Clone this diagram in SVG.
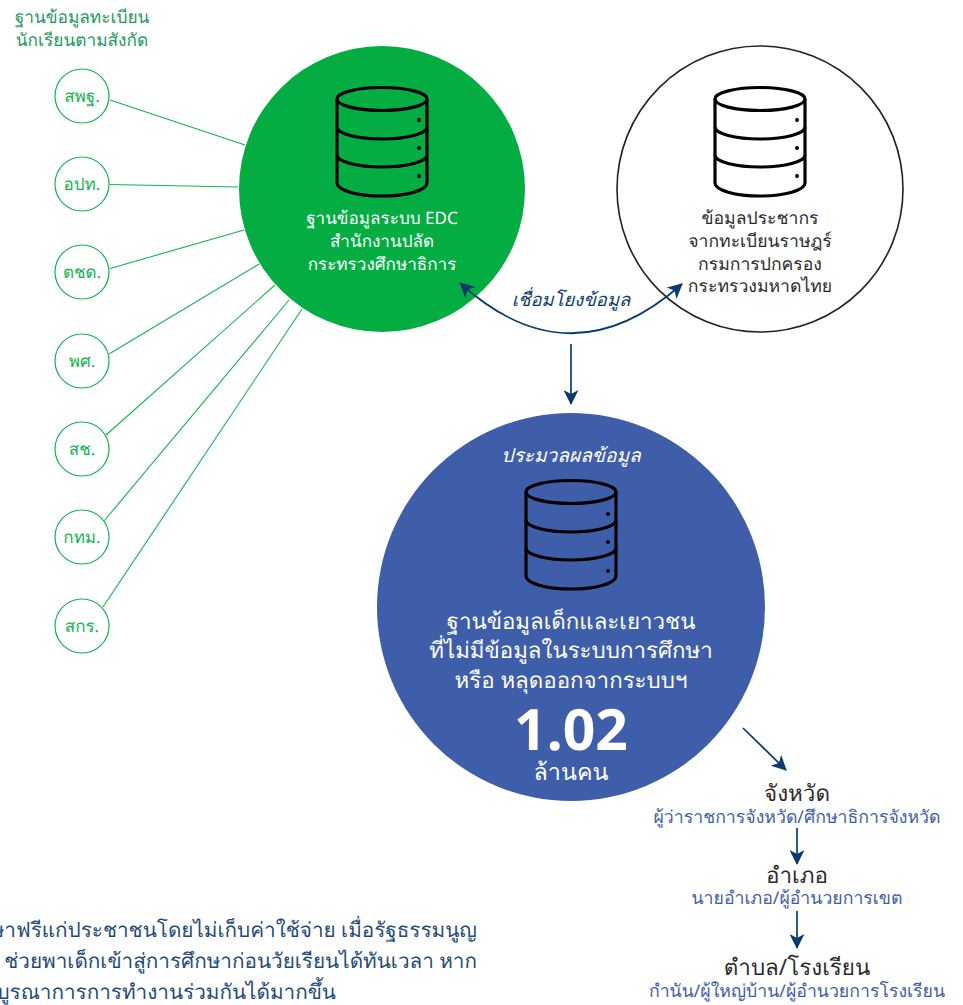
<svg xmlns="http://www.w3.org/2000/svg" width="963" height="1005" viewBox="0 0 963 1005">
<style>
text{font-family:"Noto Sans","Liberation Sans",sans-serif;text-anchor:middle;text-rendering:geometricPrecision}
.sm circle{fill:#fff;stroke:#12b551;stroke-width:1.2}
.sm text{fill:#12b551;font-size:17px}
.cn line{stroke:#12b551;stroke-width:1.1}
.ar{fill:none;stroke:#0b3a6f;stroke-width:1.7}
.db{fill:none;stroke:#000;stroke-width:3.2}
.w{fill:#fff}.k{fill:#2a2a2a}.b{fill:#3f5eaa}
.end{text-anchor:end}
</style>
<defs>
<marker id="h" viewBox="0 0 15 15" refX="14" refY="7.5" markerWidth="15" markerHeight="15" markerUnits="userSpaceOnUse" orient="auto-start-reverse"><path d="M0 0L15 7.5L0 15L4 7.5Z" fill="#0b3a6f"/></marker>
<g id="dbi"><ellipse cx="0" cy="13" rx="45" ry="11.5"/><path d="M-45 13V97A45 13 0 0 0 45 97V13"/><path d="M-45 41A45 12 0 0 0 45 41"/><path d="M-45 69A45 12 0 0 0 45 69"/></g>
</defs>
<g id="connectors" class="cn">
<line x1="110" y1="100" x2="245" y2="145"/><line x1="110" y1="184.5" x2="238" y2="187"/><line x1="110" y1="268.5" x2="244" y2="230"/><line x1="109" y1="354" x2="259" y2="264"/><line x1="106" y1="435" x2="275" y2="285"/><line x1="104" y1="521" x2="289" y2="300"/><line x1="103" y1="607" x2="302" y2="309"/>
</g>
<g id="node-edc"><circle cx="382" cy="189" r="143" fill="#03ad42"/>
<use href="#dbi" x="382" y="86" class="db"/><circle cx="419" cy="120" r="2"/><circle cx="419" cy="148" r="2"/><circle cx="419" cy="176" r="2"/>
<g class="w" font-size="17.1"><text x="382" y="224">ฐานข้อมูลระบบ EDC</text><text x="382" y="247">สำนักงานปลัด</text><text x="382" y="270">กระทรวงศึกษาธิการ</text></g></g>
<g id="node-pop"><circle cx="760" cy="189" r="143" fill="#fff" stroke="#222" stroke-width="1.6"/>
<use href="#dbi" x="760" y="86" class="db"/><circle cx="797" cy="120" r="2"/><circle cx="797" cy="148" r="2"/><circle cx="797" cy="176" r="2"/>
<g class="k" font-size="17.6"><text x="760" y="224">ข้อมูลประชากร</text><text x="760" y="247">จากทะเบียนราษฎร์</text><text x="760" y="270">กรมการปกครอง</text><text x="760" y="292">กระทรวงมหาดไทย</text></g></g>
<g id="node-main"><circle cx="571" cy="607" r="194" class="b"/>
<use href="#dbi" x="571" y="479" class="db"/><circle cx="608" cy="514" r="2"/><circle cx="608" cy="542" r="2"/><circle cx="608" cy="571" r="2"/>
<text x="571" y="462" class="w" font-size="19.1" font-style="italic">ประมวลผลข้อมูล</text>
<g class="w" font-size="22.3"><text x="571" y="629">ฐานข้อมูลเด็กและเยาวชน</text><text x="571" y="658">ที่ไม่มีข้อมูลในระบบการศึกษา</text><text x="571" y="688">หรือ หลุดออกจากระบบฯ</text></g>
<text x="571" y="750" class="w" font-size="57" font-weight="700">1.02</text><text x="571" y="780" class="w" font-size="23.3">ล้านคน</text></g>
<g id="title" fill="#1b9a5b" font-size="17.3"><text x="82" y="23">ฐานข้อมูลทะเบียน</text><text x="82" y="46">นักเรียนตามสังกัด</text></g>
<g id="n1" class="sm"><circle cx="82" cy="96" r="27"/><text x="82" y="102">สพฐ.</text></g>
<g id="n2" class="sm"><circle cx="82" cy="184" r="27"/><text x="82" y="190">อปท.</text></g>
<g id="n3" class="sm"><circle cx="82" cy="272" r="27"/><text x="82" y="278">ตชด.</text></g>
<g id="n4" class="sm"><circle cx="82" cy="361" r="27"/><text x="82" y="367">พศ.</text></g>
<g id="n5" class="sm"><circle cx="82" cy="449" r="27"/><text x="82" y="455">สช.</text></g>
<g id="n6" class="sm"><circle cx="82" cy="537" r="27"/><text x="82" y="543">กทม.</text></g>
<g id="n7" class="sm"><circle cx="82" cy="626" r="27"/><text x="82" y="632">สกร.</text></g>
<g id="arrows">
<path class="ar" d="M460 283Q570 383 682 284" marker-start="url(#h)" marker-end="url(#h)"/>
<line class="ar" x1="571" y1="344" x2="571" y2="404" marker-end="url(#h)"/>
<line class="ar" x1="743" y1="728" x2="786" y2="770" marker-end="url(#h)"/>
<line class="ar" x1="797" y1="828" x2="797" y2="864" marker-end="url(#h)"/>
<line class="ar" x1="797" y1="911" x2="797" y2="948" marker-end="url(#h)"/>
<text x="571" y="306" fill="#0b3a6f" font-size="18.4" font-style="italic">เชื่อมโยงข้อมูล</text>
</g>
<g id="levels">
<text x="797" y="801" class="k" font-size="22.4">จังหวัด</text><text x="797" y="823" class="b" font-size="17.7">ผู้ว่าราชการจังหวัด/ศึกษาธิการจังหวัด</text>
<text x="797" y="883" class="k" font-size="22.4">อำเภอ</text><text x="797" y="904" class="b" font-size="17.7">นายอำเภอ/ผู้อำนวยการเขต</text>
<text x="797" y="975" class="k" font-size="22.4">ตำบล/โรงเรียน</text><text x="797" y="997" class="b" font-size="17.7">กำนัน/ผู้ใหญ่บ้าน/ผู้อำนวยการโรงเรียน</text>
</g>
<g id="body" fill="#1f4a7c" font-size="20.7"><text x="477" y="937" class="end">ษาฟรีแก่ประชาชนโดยไม่เก็บค่าใช้จ่าย เมื่อรัฐธรรมนูญ</text><text x="477" y="968" class="end">ช่วยพาเด็กเข้าสู่การศึกษาก่อนวัยเรียนได้ทันเวลา หาก</text><text x="336" y="999" class="end">บูรณาการการทำงานร่วมกันได้มากขึ้น</text></g>
</svg>
